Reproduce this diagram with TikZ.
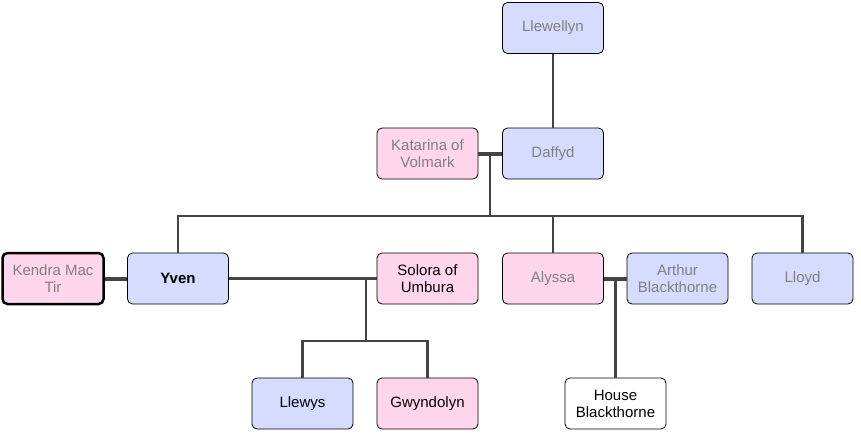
\documentclass[tikz,border=0pt]{standalone}
\usepackage{fontspec}
\setmainfont{Liberation Sans}
\definecolor{pinkf}{RGB}{255,214,236}
\definecolor{bluef}{RGB}{214,220,255}
\definecolor{greyt}{RGB}{128,128,128}
\definecolor{linec}{RGB}{68,68,68}
\begin{document}
\begin{tikzpicture}[x=1pt,y=-1pt,
  person/.style={draw=black,line width=0.8pt,rounded corners=5pt,minimum width=101pt,minimum height=51pt,align=center,font=\fontsize{15}{17}\selectfont,inner sep=0pt},
  fem/.style={person,fill=pinkf},
  mal/.style={person,fill=bluef},
  hou/.style={person,fill=white},
  gt/.style={text=greyt},
  link/.style={draw=linec,line width=2.2pt},
  wed/.style={draw=linec,line width=4pt}]
\useasboundingbox (0,0) rectangle (861,436);
\node[mal,gt] (llewellyn) at (553,28) {Llewellyn};
\node[fem,gt] (katarina) at (427.5,153.5) {Katarina of\\Volmark};
\node[mal,gt] (daffyd) at (553,153.5) {Daffyd};
\node[fem,gt,line width=2.5pt] (kendra) at (53,278.5) {Kendra Mac\\Tir};
\node[mal,font=\fontsize{15}{17}\selectfont\bfseries] (yven) at (178,278.5) {Yven};
\node[fem] (solora) at (427.5,278.5) {Solora of\\Umbura};
\node[fem,gt] (alyssa) at (553,278.5) {Alyssa};
\node[mal,gt] (arthur) at (677.5,278.5) {Arthur\\Blackthorne};
\node[mal,gt] (lloyd) at (802.5,278.5) {Lloyd};
\node[mal] (llewys) at (302.5,403.5) {Llewys};
\node[fem] (gwyn) at (427.5,403.5) {Gwyndolyn};
\node[hou] (house) at (615.5,403.5) {House\\Blackthorne};
\coordinate (m1) at (490,153.5);
\coordinate (m2) at (366,278.5);
\coordinate (m3) at (615.5,278.5);
\coordinate (j1) at (490,216);
\coordinate (j2) at (366,341);
\draw[link] (llewellyn.south) -- (daffyd.north);
\draw[link] (m1) -- (j1) -| (yven.north);
\draw[link] (j1) -| (alyssa.north);
\draw[link] (j1) -| (lloyd.north);
\draw[link] (yven.east) -- (solora.west);
\draw[link] (m2) -- (j2) -| (llewys.north);
\draw[link] (j2) -| (gwyn.north);
\draw[link] (m3) -- (house.north);
\draw[wed] (katarina.east) -- (daffyd.west);
\draw[wed] (kendra.east) -- (yven.west);
\draw[wed] (alyssa.east) -- (arthur.west);
\end{tikzpicture}
\end{document}
